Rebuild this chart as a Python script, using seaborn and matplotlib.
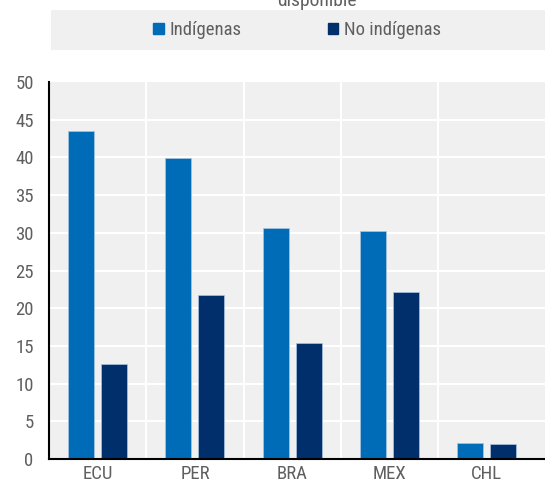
import matplotlib
matplotlib.use("Agg")
import matplotlib.pyplot as plt
import matplotlib.patches as mpatches
import seaborn as sns
import pandas as pd

paises = ["ECU", "PER", "BRA", "MEX", "CHL"]
indigenas = [43.5, 39.9, 30.7, 30.3, 2.1]
no_indigenas = [12.6, 21.8, 15.4, 22.1, 2.0]
grupos = ["Indígenas", "No indígenas"]
colores = ["#006BB6", "#002F6C"]

df = pd.DataFrame({
    "pais": paises * 2,
    "valor": indigenas + no_indigenas,
    "grupo": [grupos[0]] * 5 + [grupos[1]] * 5,
})

sns.set_style("white")
plt.rcParams["font.family"] = ["Roboto Condensed", "DejaVu Sans"]
gris = "#5F5F5F"

fig = plt.figure(figsize=(5.45, 4.82), dpi=100)
ax = fig.add_axes([49 / 545, 1 - 459 / 482, 1 - 49 / 545, (459 - 82) / 482])
ax.set_facecolor("#F0F0F0")

sns.barplot(data=df, x="pais", y="valor", hue="grupo", palette=colores,
            saturation=1, width=0.68, gap=0.21, edgecolor="#A9C4E0",
            linewidth=0.5, legend=False, ax=ax)

ax.set_ylim(0, 50)
ax.set_xlim(-0.5, 4.6)
ax.set_yticks(range(0, 51, 5))
ax.set_xlabel("")
ax.set_ylabel("")

# gridlines blancas
for y in range(5, 50, 5):
    ax.axhline(y, color="white", lw=1.5, zorder=0.5)
for x in [0.5, 1.5, 2.5, 3.5]:
    ax.axvline(x, color="white", lw=1.5, zorder=0.5)
ax.set_axisbelow(True)

for s in ["top", "right"]:
    ax.spines[s].set_visible(False)
ax.spines["left"].set_color("black")
ax.spines["bottom"].set_color("black")
ax.spines["left"].set_linewidth(1.5)
ax.spines["bottom"].set_linewidth(1.5)

ax.tick_params(axis="y", direction="in", length=5, width=1.2, colors="black",
               labelcolor=gris, labelsize=13.5, pad=11)
ax.tick_params(axis="x", length=0, labelcolor=gris, labelsize=13.5, pad=4)
ax.set_xticks([0.5, 1.5, 2.5, 3.5], minor=True)
ax.tick_params(axis="x", which="minor", direction="in", length=5, width=1.5,
               colors="black")

# caja de leyenda
fig.patches.append(mpatches.Rectangle((51 / 545, 1 - 50 / 482), 494 / 545, 40 / 482,
                                      transform=fig.transFigure,
                                      facecolor="#F0F0F0", edgecolor="none"))
handles = [mpatches.Patch(color=c, label=g) for c, g in zip(colores, grupos)]
fig.legend(handles=handles, loc="center", bbox_to_anchor=(297 / 545, 1 - 30 / 482),
           ncol=2, frameon=False, fontsize=13.5, labelcolor=gris,
           handlelength=0.55, handleheight=0.55, handletextpad=0.3,
           columnspacing=4.6)

fig.text(317 / 545, 1 - 6 / 482, "disponible", ha="center", va="baseline",
         fontsize=14, color=gris)

fig.savefig("out.png", dpi=100)
